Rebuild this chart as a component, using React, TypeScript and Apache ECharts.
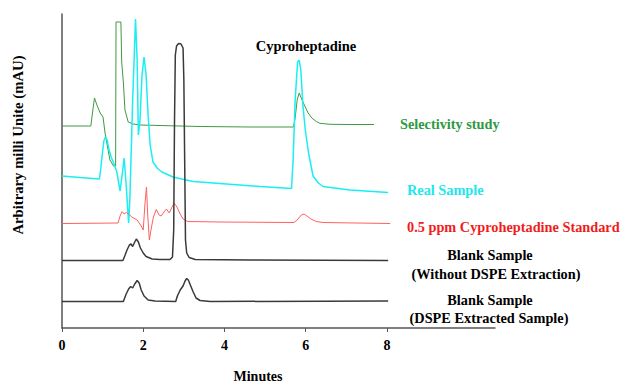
import React, { useEffect, useRef } from "react";
import * as echarts from "echarts";

// x-axis ticks (minutes)
const xTicks = [0, 2, 4, 6, 8];

// Selectivity study (green)
const selT = [0, 0.71, 0.76, 0.8, 0.86, 0.94, 1.01, 1.06, 1.18, 1.27, 1.32, 1.33, 1.45, 1.47, 1.51, 1.55, 1.63, 1.75, 1.92, 3.4, 4.63, 5.7, 5.74, 5.79, 5.84, 5.91, 5.99, 6.06, 6.15, 6.26, 6.35, 6.6, 7.09, 7.68];
const selV = [202, 202, 218, 230, 223, 215, 211, 195, 168, 162, 162, 306, 306, 266, 246, 218, 206, 204, 203, 201.5, 201, 201, 210, 228, 235, 228, 221, 215, 210, 206.5, 204.7, 203.7, 203.5, 203.5];

// Real sample (cyan)
const realT = [0, 0.44, 0.92, 0.95, 0.99, 1.03, 1.07, 1.11, 1.16, 1.21, 1.28, 1.35, 1.43, 1.48, 1.53, 1.58, 1.64, 1.67, 1.74, 1.81, 1.85, 1.88, 1.92, 1.97, 2.02, 2.07, 2.12, 2.17, 2.24, 2.34, 2.46, 2.73, 3.23, 3.89, 4.88, 5.65, 5.69, 5.74, 5.8, 5.84, 5.88, 5.93, 5.99, 6.07, 6.18, 6.31, 6.43, 7.09, 8.03];
const realV = [152, 150.5, 149, 158, 173, 187, 191, 188, 178, 171, 164, 156, 137, 153, 170, 143, 105, 128, 228, 309, 268, 193, 208, 253, 271, 253, 213, 183, 166, 160, 156, 151, 146.5, 144.5, 141.5, 139.5, 168, 228, 266, 268, 258, 223, 198, 175, 152, 145, 141.5, 138, 135.5];

// 0.5 ppm Cyproheptadine Standard (red)
const stdT = [0, 1.38, 1.43, 1.48, 1.53, 1.58, 1.64, 1.72, 1.85, 1.95, 2.0, 2.04, 2.08, 2.11, 2.15, 2.19, 2.25, 2.32, 2.39, 2.44, 2.51, 2.57, 2.64, 2.71, 2.76, 2.83, 2.91, 2.98, 3.1, 3.89, 5.71, 5.79, 5.89, 5.96, 6.03, 6.13, 6.26, 6.43, 8.08];
const stdV = [104.5, 105, 112, 116.5, 114, 115.5, 114, 111, 108, 102, 98, 123, 141, 113, 88, 98, 111, 118.5, 113, 112, 116, 119, 115, 121, 125, 121, 114, 109, 106.5, 106, 105.5, 108, 113, 114, 112, 109, 106.5, 105.5, 104.5];

// Blank sample without DSPE extraction (black)
const blank1T = [0, 1.5, 1.55, 1.6, 1.66, 1.7, 1.74, 1.79, 1.83, 1.88, 1.93, 2.0, 2.07, 2.22, 2.41, 2.66, 2.72, 2.75, 2.77, 2.79, 2.82, 2.87, 2.93, 2.98, 3.0, 3.02, 3.04, 3.07, 3.13, 3.28, 4.63, 8.03];
const blank1V = [67.5, 67.5, 72.5, 78, 83, 84, 81.5, 86, 89, 86, 80, 75, 71.5, 69, 68.5, 68.5, 71, 98, 208, 273, 282, 284.5, 284, 280, 248, 168, 88, 75, 70.5, 68.5, 68, 67.5];

// Blank sample DSPE extracted (black)
const blank2T = [0, 1.51, 1.58, 1.64, 1.69, 1.74, 1.79, 1.85, 1.9, 1.95, 2.02, 2.12, 2.29, 2.8, 2.84, 2.91, 2.98, 3.03, 3.07, 3.11, 3.16, 3.23, 3.3, 3.4, 3.65, 8.03];
const blank2V = [26.5, 26.5, 34, 39, 41.5, 40, 44, 47.5, 45, 38, 32, 28, 27, 26.5, 32, 38, 42, 47, 49.5, 48, 43, 36, 30, 27.5, 26.5, 27];

const zip = (t: number[], v: number[]) => t.map((x, i) => [x, v[i]]);

const FONT = "Times New Roman, Liberation Serif, serif";

export default function App() {
  const ref = useRef<HTMLDivElement>(null);
  useEffect(() => {
    if (!ref.current) return;
    const chart = echarts.init(ref.current, undefined, { renderer: "svg" });
    const line = (data: number[][], color: string, width: number) => ({
      type: "line",
      data,
      showSymbol: false,
      symbol: "none",
      smooth: false,
      lineStyle: { color, width },
      silent: true,
    });
    const txt = (text: string, x: number, y: number, fill: string, size: number, align = "left", rotation = 0) => ({
      type: "text",
      x,
      y,
      rotation,
      style: {
        text,
        fill,
        fontFamily: FONT,
        fontWeight: "bold",
        fontSize: size,
        align,
        verticalAlign: "middle",
      },
    });
    chart.setOption({
      animation: false,
      backgroundColor: "#ffffff",
      grid: { left: 62, right: 129, top: 14, bottom: 57, containLabel: false },
      xAxis: {
        type: "value",
        min: 0,
        max: 10.66,
        axisLine: { show: true, onZero: false, lineStyle: { color: "#555", width: 1.5 } },
        axisTick: { show: true, customValues: xTicks, length: 4, lineStyle: { color: "#555" } },
        axisLabel: {
          customValues: xTicks,
          margin: 10,
          color: "#000",
          fontFamily: FONT,
          fontWeight: "bold",
          fontSize: 14,
        },
        splitLine: { show: false },
      },
      yAxis: {
        type: "value",
        min: 0,
        max: 314,
        axisLine: { show: true, lineStyle: { color: "#555", width: 1.5 } },
        axisTick: { show: false },
        axisLabel: { show: false },
        splitLine: { show: false },
      },
      series: [
        line(zip(selT, selV), "#3f9a3f", 1),
        line(zip(realT, realV), "#19eef2", 1.5),
        line(zip(stdT, stdV), "#ff6060", 1),
        line(zip(blank1T, blank1V), "#3a3a3a", 1.5),
        line(zip(blank2T, blank2V), "#3a3a3a", 1.5),
      ],
      graphic: [
        txt("Cyproheptadine", 306, 46, "#000", 14.5, "center"),
        txt("Selectivity study", 400, 124, "#2e9a42", 14.3),
        txt("Real Sample", 407, 190, "#22e6ee", 14.3),
        txt("0.5 ppm Cyproheptadine Standard", 407, 227, "#f01c1c", 14.3),
        txt("Blank Sample", 490, 255, "#000", 14.3, "center"),
        txt("(Without DSPE Extraction)", 496, 274, "#000", 14.3, "center"),
        txt("Blank Sample", 490, 300, "#000", 14.3, "center"),
        txt("(DSPE Extracted Sample)", 489, 318, "#000", 14.3, "center"),
        txt("Minutes", 258, 376, "#000", 14, "center"),
        txt("Arbitrary milli Unite (mAU)", 18, 145, "#000", 14.7, "center", Math.PI / 2),
      ],
    });
    return () => chart.dispose();
  }, []);
  return (
    <div
      ref={ref}
      style={{ position: "fixed", left: 0, top: 0, width: 624, height: 385, background: "#fff" }}
    />
  );
}
